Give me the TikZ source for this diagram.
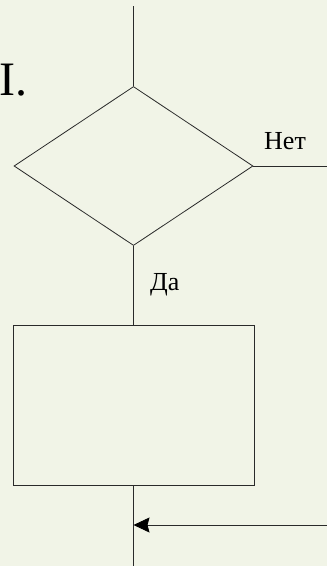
\documentclass[tikz,border=0pt]{standalone}
\usepackage{fontspec}
\setmainfont{Liberation Serif}
\usetikzlibrary{shapes.geometric,arrows.meta}
\definecolor{paper}{HTML}{F1F4E7}
\definecolor{ink}{HTML}{2A2A2A}
\begin{document}
\begin{tikzpicture}[x=1pt,y=-1pt,
  flow/.style={draw=ink,line width=0.8pt},
  decision/.style={diamond,flow,inner sep=0pt,minimum width=239pt,minimum height=159pt},
  process/.style={rectangle,flow,inner sep=0pt,minimum width=241pt,minimum height=159.5pt},
  lbl/.style={inner sep=0pt,anchor=base west,font=\fontsize{26}{29}\selectfont}]
  \fill[paper] (0,0) rectangle (327,566);
  \useasboundingbox (0,0) rectangle (327,566);

  % decision and action blocks
  \node[decision] (cond) at (133.5,166) {};
  \node[process] (act) at (133.5,405.5) {};

  % entry, exits and return line
  \coordinate (in) at (133.5,6);
  \coordinate (noexit) at (327,166);
  \coordinate (out) at (133.5,566);
  \coordinate (ret) at (327,525);
  \coordinate (join) at (133.5,525);

  \draw[flow] (in) -- (cond.north);
  \draw[flow] (cond.east) -- (noexit);
  \draw[flow] (cond.south) -- (act.north);
  \draw[flow] (act.south) -- (out);
  \draw[flow,-{Stealth[length=16pt,width=15pt,inset=2pt,color=black]}] (ret) -- (join);

  % labels
  \node[lbl] (no) at (264,149) {Нет};
  \node[lbl] (yes) at (150,290) {Да};
  \node[inner sep=0pt,anchor=base west,font=\fontsize{48}{52}\selectfont] (num) at (-1,95) {I.};
\end{tikzpicture}
\end{document}
